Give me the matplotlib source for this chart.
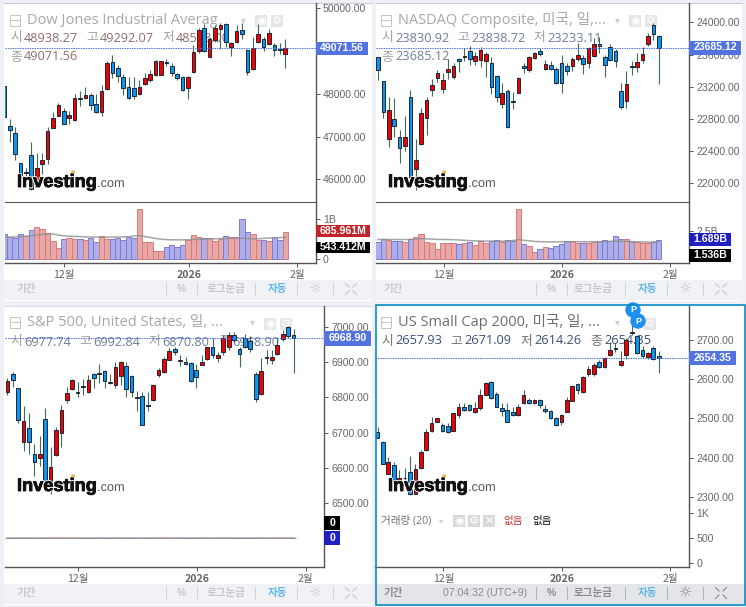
import matplotlib
matplotlib.use("Agg")
import matplotlib.pyplot as plt
from matplotlib.patches import Rectangle, Circle
import matplotlib.patheffects as pe

plt.rcParams['font.family'] = ['Liberation Sans', 'Noto Sans CJK KR', 'DejaVu Sans']

W, H = 746, 607
LEGEND_FONT = ['Open Sans', 'Noto Sans CJK KR', 'DejaVu Sans']
KR_FONT = ['Noto Sans CJK KR', 'DejaVu Sans']

dow_open = [48190,47247,47075,46389,46139,46576,45827,46357,46482,47200,47489,47605,47434,47387,47894,47894,47980,47754,47582,48105,48736,48612,48401,48151,48128,47995,48229,48331,48432,48440,48744,48651,48456,48401,48128,48502,49009,49532,48853,49259,49524,49633,49095,49220,49485,49025,48573,49220,49275,49158,49134,49048,48938.27]
dow_high = [48190,47403,47231,46389,46256,46872,46607,46607,47215,47582,47777,47660,47605,47995,48073,48151,48011,47988,48214,48775,48908,48674,48463,48401,48385,48323,48479,48557,48791,48768,48807,48713,48479,48417,48417,49142,49532,49633,49337,49610,49649,49649,49220,49610,49649,49041,49337,49633,49321,49509,49181,49181,49292.07]
dow_low = [47465,46880,46451,46061,45827,45749,45827,46123,46357,47192,47481,47293,47293,47371,47715,47886,47621,47543,47489,48089,48362,48284,47972,47886,47886,47980,48214,48284,48417,48432,48651,48417,48323,48073,47886,48495,48963,48986,48830,49220,49041,49103,48885,49197,49275,48448,48557,49197,49002,49142,48885,48931,48598]
dow_close = [47465,47153,46591,46100,46162,45765,46256,46443,47122,47434,47730,47301,47504,47894,47871,47980,47746,47582,48058,48713,48479,48424,48128,47894,47956,48151,48378,48456,48760,48760,48721,48479,48378,48081,48401,48986,49493,49002,49275,49532,49610,49220,49181,49462,49392,48502,49080,49407,49103,49423,49025,49025,49071.56]
dow_volume = [618,551,517,618,567,728,805,754,652,449,271,500,534,500,500,483,525,423,567,500,500,525,483,551,534,1262,423,423,195,195,296,339,288,339,474,601,551,517,517,449,500,576,551,551,1008,678,618,466,483,449,542,483,686]
dow_volume_ma = [550,548,552,560,570,580,600,615,630,625,600,580,570,565,560,555,550,548,545,545,548,550,555,560,575,590,565,540,515,495,485,480,478,478,482,488,490,495,500,505,510,515,518,520,515,510,505,505,515,525,530,535,543]

naz_open = [23564,23266,22552,22801,22577,22465,23066,22170,22486,22809,23162,23303,23174,23378,23324,23539,23564,23647,23515,23535,23515,23490,23332,22988,23141,23021,23120,23457,23411,23552,23643,23419,23465,23423,23490,23457,23457,23544,23552,23498,23577,23734,23564,23697,23643,23141,23021,23452,23440,23531,23726,23971,23830.92]
naz_high = [23573,23270,23075,23054,22660,22834,23158,22544,22930,23075,23291,23407,23365,23539,23498,23552,23676,23705,23635,23697,23635,23573,23344,23241,23166,23137,23315,23490,23581,23635,23676,23531,23523,23448,23589,23490,23573,23739,23589,23697,23801,23822,23593,23730,23664,23249,23398,23519,23622,23689,23871,23988,23838.72]
naz_low = [23282,22805,22452,22569,22245,22403,22017,21913,22477,22598,23083,23262,23116,23291,23291,23386,23519,23465,23469,23440,23324,23108,23013,22930,22689,22917,23116,23374,23386,23539,23581,23407,23407,23232,23125,23344,23398,23523,23357,23436,23564,23614,23315,23515,23448,22925,22934,23344,23382,23498,23710,23780,23233.11]
naz_close = [23411,22880,22909,22706,22440,22577,22079,22282,22876,23033,23224,23365,23282,23423,23457,23515,23581,23544,23581,23656,23602,23199,23066,23116,22697,23008,23311,23432,23564,23614,23602,23477,23423,23241,23241,23398,23544,23589,23477,23685,23734,23710,23473,23535,23523,22950,23232,23440,23502,23602,23830,23855,23685.12]
naz_volume = [1529,1735,1676,1558,1558,1499,1793,1911,2205,1470,1411,853,1382,1382,1382,1294,1411,1499,1235,1558,1411,1558,1646,1499,1646,1588,4410,1294,1176,617,853,1088,1000,1176,1294,1558,1558,1382,1382,1382,1470,1558,1646,1558,1999,1735,1735,1558,1499,1411,1382,1499,1689]
naz_volume_ma = [1720,1725,1725,1720,1715,1715,1730,1760,1790,1780,1760,1730,1720,1720,1700,1680,1650,1620,1600,1590,1580,1580,1575,1570,1590,1620,1720,1650,1600,1550,1530,1520,1510,1510,1510,1520,1520,1520,1520,1520,1525,1530,1540,1560,1575,1560,1550,1530,1510,1500,1490,1510,1536]

spx_open = [6815,6868,6826,6673,6713,6641,6627,6739,6544,6637,6698,6792,6823,6812,6832,6815,6867,6867,6874,6843,6834,6862,6888,6860,6799,6803,6778,6792,6864,6871,6906,6937,6903,6900,6898,6877,6893,6908,6944,6913,6928,6943,6976,6937,6968,6961,6866,6810,6915,6907,6922,6966,7001,6977.74]
spx_high = [6854,6873,6828,6776,6755,6667,6691,6769,6660,6717,6779,6831,6852,6845,6852,6864,6870,6896,6877,6868,6900,6904,6900,6864,6818,6815,6816,6839,6883,6916,6939,6944,6921,6916,6902,6894,6921,6944,6968,6930,6977,6987,6985,6944,6979,6973,6873,6911,6935,6935,6968,6991,7002,6992.84]
spx_low = [6807,6831,6727,6649,6641,6578,6605,6552,6525,6635,6660,6785,6821,6802,6807,6812,6828,6840,6828,6837,6826,6835,6802,6802,6762,6721,6762,6790,6859,6869,6905,6921,6890,6892,6845,6826,6892,6906,6911,6902,6921,6935,6954,6887,6941,6928,6788,6807,6894,6896,6921,6960,6968,6870.80]
spx_close = [6846,6851,6737,6733,6673,6616,6641,6561,6604,6707,6764,6814,6849,6815,6829,6849,6856,6869,6846,6840,6887,6901,6825,6815,6801,6722,6775,6834,6877,6910,6931,6930,6905,6895,6847,6859,6902,6943,6921,6921,6968,6976,6964,6924,6943,6938,6797,6874,6912,6916,6949,6979,6975,6968.90]
spx_volume = [0] * 54
spx_volume_ma = [0] * 54

rut_open = [2465,2441,2358,2381,2339,2349,2364,2308,2373,2419,2467,2491,2482,2480,2469,2508,2530,2533,2515,2525,2560,2592,2563,2525,2521,2517,2508,2538,2547,2540,2546,2524,2519,2500,2491,2517,2544,2586,2567,2613,2613,2642,2630,2661,2675,2636,2661,2716,2708,2673,2657,2680,2657.93]
rut_high = [2479,2442,2402,2390,2369,2374,2405,2383,2419,2472,2503,2502,2487,2488,2514,2540,2539,2537,2541,2575,2593,2595,2568,2539,2540,2530,2536,2572,2552,2549,2548,2534,2522,2503,2510,2555,2585,2589,2608,2634,2640,2648,2657,2695,2691,2671,2703,2742,2710,2683,2669,2685,2671.09]
rut_low = [2449,2383,2358,2341,2326,2326,2305,2307,2372,2417,2466,2491,2466,2463,2468,2502,2519,2519,2513,2522,2559,2549,2529,2507,2490,2505,2505,2537,2537,2537,2527,2514,2498,2481,2483,2515,2543,2563,2565,2608,2608,2627,2627,2659,2669,2634,2651,2712,2663,2653,2651,2648,2614.26]
rut_close = [2450,2384,2388,2342,2349,2347,2307,2370,2414,2466,2487,2501,2469,2464,2513,2530,2522,2521,2525,2558,2591,2551,2530,2519,2491,2508,2528,2558,2540,2546,2535,2519,2500,2482,2508,2546,2583,2573,2604,2625,2636,2630,2653,2673,2678,2645,2698,2719,2666,2658,2665,2651,2654.35]

month_labels = ["12월", "2026", "2월"]
# 49000 sits fully behind the last price box in the reference
dow_ticks = [46000, 47000, 48000, 50000]
naz_ticks = [22000, 22400, 22800, 23200, 23600, 24000]
spx_ticks = [6500, 6600, 6700, 6800, 6900, 7000]
rut_ticks = [2300, 2400, 2500, 2600, 2700]

UP = '#f00000'
DOWN = '#0a96f0'
EDGE = '#1b2733'
WICK = '#3f6b58'
AXIS = '#555555'
TEXT = '#666666'

fig = plt.figure(figsize=(W / 100, H / 100), dpi=100, facecolor='#eef0f5')


def px_axes(x0, y0, x1, y1, z):
    ax = fig.add_axes([x0 / W, 1 - y1 / H, (x1 - x0) / W, (y1 - y0) / H], zorder=z)
    ax.patch.set_visible(False)
    return ax


under = px_axes(0, 0, W, H, 0)
under.set_xlim(0, W)
under.set_ylim(H, 0)
under.axis('off')
over = px_axes(0, 0, W, H, 5)
over.set_xlim(0, W)
over.set_ylim(H, 0)
over.axis('off')


def box(ax, x0, y0, x1, y1, color, **kw):
    ax.add_patch(Rectangle((x0, y0), x1 - x0, y1 - y0, facecolor=color, edgecolor='none', **kw))


def price_pane(rect, xlim, ylim, ticks, o, h, l, c, sep):
    ax = px_axes(*rect, 2)
    idx = range(len(c))
    colors = [UP if cc >= oo else DOWN for oo, cc in zip(o, c)]
    ax.vlines(idx, l, h, color=WICK, lw=0.8, zorder=2)
    ax.bar(idx, [cc - oo for oo, cc in zip(o, c)], bottom=o, width=0.68, color=colors,
           edgecolor=EDGE, linewidth=0.7, zorder=3)
    ax.axhline(c[-1], color='#4a6fe0', lw=0.7, ls=(0, (1.5, 1)), zorder=4)
    ax.set_xlim(*xlim)
    ax.set_ylim(*ylim)
    ax.set_xticks([])
    ax.yaxis.tick_right()
    ax.set_yticks(ticks, [f"{t:.2f}" for t in ticks])
    ax.tick_params(axis='y', length=3, width=0.7, color=AXIS, labelcolor=TEXT, labelsize=7.6, pad=2)
    for side in ['top', 'left']:
        ax.spines[side].set_visible(False)
    ax.spines['bottom'].set_visible(sep)
    ax.spines['bottom'].set_color(AXIS)
    ax.spines['right'].set_color(AXIS)
    ax.spines['right'].set_linewidth(1)
    return colors


def volume_pane(rect, xlim, ylim, xticks, yticks, ylabels, volume=None, ma=None, colors=None):
    ax = px_axes(*rect, 2)
    if volume is not None:
        faces = ['#e8a8a8' if cl == UP else '#aeaee8' for cl in colors]
        edges = ['#d87c7c' if cl == UP else '#7c7cd8' for cl in colors]
        ax.bar(range(len(volume)), volume, width=1.0, color=faces, edgecolor=edges, linewidth=0.7)
        ax.plot(range(len(ma)), ma, color='#8f8f8f', lw=1.1, alpha=0.8)
    ax.set_xlim(*xlim)
    ax.set_ylim(*ylim)
    ax.set_xticks(xticks, month_labels, family=KR_FONT)
    ax.get_xticklabels()[1].set_fontweight('bold')
    ax.yaxis.tick_right()
    ax.set_yticks(yticks, ylabels)
    ax.tick_params(axis='y', length=3, width=0.7, color=AXIS, labelcolor=TEXT, labelsize=7.6, pad=2)
    ax.tick_params(axis='x', length=3, width=0.7, color=AXIS, labelcolor=TEXT, labelsize=7.6, pad=2)
    for side in ['top', 'left']:
        ax.spines[side].set_visible(False)
    for side in ['bottom', 'right']:
        ax.spines[side].set_color(AXIS)
        ax.spines[side].set_linewidth(1)


def logo(x, y):
    halo = [pe.withStroke(linewidth=1.6, foreground='white')]
    heavy = [pe.withStroke(linewidth=1.8, foreground='white'),
             pe.withStroke(linewidth=0.6, foreground='#111111')]
    over.text(x, y, "Investing", family='Liberation Sans', fontweight='bold', fontsize=13.1,
              color='#111111', va='baseline', path_effects=heavy)
    over.text(x + 80, y, ".com", family='Liberation Sans', fontsize=9.2, color='#555555',
              va='baseline', path_effects=halo)
    over.add_patch(Circle((x + 56, y - 14.5), 1.3, color='#f5a623'))


def legend_title(x, y, text, color, arrow_x):
    under.add_patch(Rectangle((x - 17, y - 5.5), 10, 11, facecolor='none', edgecolor='#c4c4c4', lw=0.7))
    under.plot([x - 17, x - 7], [y, y], color='#c4c4c4', lw=0.7)
    under.text(x, y, text, family=LEGEND_FONT, fontsize=10.55, color=color, va='center')
    under.text(arrow_x, y, "▾", family=['DejaVu Sans'], fontsize=7, color='#cccccc', ha='center', va='center')


def legend_value(x, y, name, value, name_color, value_color):
    under.text(x, y, name, family=KR_FONT, fontsize=9.2, color=name_color, va='center')
    under.text(x + 14, y, value, family=LEGEND_FONT, fontsize=9.2, color=value_color, va='center')


def icon_box(x0, y0, size=12, glyph="⚙", color='#e6e6e6', ax=None):
    ax = ax if ax is not None else under
    box(ax, x0, y0, x0 + size, y0 + size, color)
    ax.text(x0 + size / 2, y0 + size / 2, glyph, family=['DejaVu Sans'], fontsize=8, color='white',
            ha='center', va='center')


def price_label(x0, y0, x1, y1, text, color):
    box(over, x0, y0, x1, y1, color)
    over.text((x0 + x1) / 2, (y0 + y1) / 2, text, fontsize=7.6, fontweight='bold', color='white',
              ha='center', va='center')


def toolbar(x0, x1, y0, y1, dx, bg, label_color, active=False):
    box(under, x0, y0, x1, y1, bg)
    cy = (y0 + y1) / 2 - 1
    for sx in [166, 197, 255, 297, 333]:
        over.plot([sx + dx, sx + dx], [cy - 6, cy + 6], color='#cfd2d8' if not active else '#b0b2b8', lw=0.7)
    for cx, s in [(26, "기간"), (226, "로그눈금")]:
        over.text(cx + dx + (-3 if dx > 300 else 0), cy, s, family=KR_FONT, fontsize=7.6,
                  color=label_color, fontweight='bold', ha='center', va='center')
    over.text(181 + dx, cy, "%", fontsize=7.6, color=label_color, fontweight='bold', ha='center', va='center')
    over.text(277 + dx, cy, "자동", family=KR_FONT, fontsize=7.6, color='#62b8e4', fontweight='bold',
              ha='center', va='center')
    over.text(315 + dx, cy, "☼", family=['DejaVu Sans'], fontsize=10.5, color=label_color, ha='center', va='center')
    cx = 351 + dx
    for sx, sy in [(-1, -1), (1, -1), (-1, 1), (1, 1)]:
        over.plot([cx + sx * 2, cx + sx * 5.5], [cy + sy * 2, cy + sy * 5.5], color=label_color, lw=0.8)


# panel backgrounds
box(under, 4, 3, 372, 301, 'white')
box(under, 376, 3, 742, 301, 'white')
box(under, 4, 306, 372, 604.5, 'white')
box(under, 375.5, 305, 745, 604.5, 'white')
under.plot([4, 372], [2.7, 2.7], color='#c8ccd4', lw=0.8)
under.plot([376, 742], [2.7, 2.7], color='#c8ccd4', lw=0.8)
under.plot([4, 372], [305.5, 305.5], color='#d8dce4', lw=0.8)

# Dow Jones
x1 = (0.07, 57.7)
colors = price_pane((4.7, 3, 316, 201.7), x1, (45476, 50125), dow_ticks, dow_open, dow_high, dow_low, dow_close, True)
volume_pane((4.7, 201.7, 316, 263.3), x1, (-117, 1447), [11.1, 34.25, 54.25], [0, 1000], ["0", "1B"],
            dow_volume, dow_volume_ma, colors)
legend_title(27, 20, "Dow Jones Industrial Averag", '#a8a8a8', 243)
legend_value(10, 38, "시", "48938.27", '#a0a0a0', '#8d6e6e')
legend_value(86, 38, "고", "49292.07", '#a0a0a0', '#8d6e6e')
legend_value(162, 38, "저", "48598.00", '#a0a0a0', '#8d6e6e')
legend_value(10, 57, "종", "49071.56", '#a0a0a0', '#8d6e6e')
icon_box(255, 15, glyph="◉")
icon_box(271, 15)
price_label(316, 41.5, 368, 55, "49071.56", '#5273e0')
price_label(316, 225, 370, 237.3, "685.961M", '#c02428')
price_label(316, 241.7, 370, 253.3, "543.412M", '#000000')
logo(17, 187)
toolbar(4, 372, 280, 300, 0, '#f0f2f6', '#c6c8cc')

# NASDAQ
x2 = (-0.37, 57.65)
colors = price_pane((376, 3, 689.3, 201.7), x2, (21768, 24241), naz_ticks, naz_open, naz_high, naz_low, naz_close, True)
# the zero label stays behind the 1.536B box in the reference, only the tick shows
volume_pane((376, 201.7, 689.3, 263.3), x2, (-380, 5057), [12.2, 34.1, 54.1], [0, 2500], ["", "2.5B"],
            naz_volume, naz_volume_ma, colors)
legend_title(398, 20, "NASDAQ Composite, 미국, 일,...", '#a8a8a8', 617)
legend_value(381, 38, "시", "23830.92", '#a0a0a0', '#6d7f99')
legend_value(457, 38, "고", "23838.72", '#a0a0a0', '#6d7f99')
legend_value(533, 38, "저", "23233.11", '#a0a0a0', '#6d7f99')
legend_value(381, 57, "종", "23685.12", '#a0a0a0', '#6d7f99')
icon_box(629, 15, glyph="◉")
icon_box(645, 15)
price_label(689.3, 40.5, 741, 54.5, "23685.12", '#5273e0')
price_label(689.3, 233.3, 730.7, 245.7, "1.689B", '#2020c0')
price_label(689.3, 249.3, 730.7, 261.7, "1.536B", '#000000')
logo(388, 187)
toolbar(376, 742, 280, 300, 370, '#f0f2f6', '#c6c8cc')

# S&P 500
x3 = (-0.49, 58.7)
colors = price_pane((4.7, 306, 324.3, 505), x3, (6495, 7059.5), spx_ticks, spx_open, spx_high, spx_low, spx_close, False)
volume_pane((4.7, 505, 324.3, 567), x3, (-29.3, 32.7), [13.1, 35.1, 55.25], [], [],
            spx_volume, spx_volume_ma, colors)
legend_title(27, 322, "S&P 500, United States, 일, ...", '#a8a8a8', 252)
legend_value(10, 342, "시", "6977.74", '#a0a0a0', '#6d7f99')
legend_value(79, 342, "고", "6992.84", '#a0a0a0', '#6d7f99')
legend_value(148, 342, "저", "6870.80", '#a0a0a0', '#6d7f99')
legend_value(218, 342, "종", "6968.90", '#a0a0a0', '#6d7f99')
icon_box(264, 318, glyph="◉")
icon_box(280, 318)
price_label(324.3, 331, 371, 345.7, "6968.90", '#5273e0')
price_label(324.3, 516, 340, 530, "0", '#000000')
price_label(324.3, 530.7, 340, 544.7, "0", '#2020c0')
logo(17, 491)
toolbar(4, 372, 584, 604, 0, '#f0f2f6', '#c6c8cc')

# US Small Cap 2000
colors = price_pane((375.5, 305.5, 689.3, 505), x2, (2279.6, 2786.8), rut_ticks, rut_open, rut_high, rut_low, rut_close, False)
volume_pane((375.5, 505, 689.3, 567), x2, (-86, 1154), [12.2, 34.1, 54.1], [0, 500, 1000], ["0", "500", "1K"])
legend_title(398, 322, "US Small Cap 2000, 미국, 일, ...", '#6e6e6e', 617)
legend_value(381, 341, "시", "2657.93", '#707070', '#3a5078')
legend_value(450, 341, "고", "2671.09", '#707070', '#3a5078')
legend_value(520, 341, "저", "2614.26", '#707070', '#3a5078')
legend_value(590, 341, "종", "2654.35", '#707070', '#3a5078')
icon_box(644, 318)
under.text(381, 521, "거래량 (20)", family=LEGEND_FONT, fontsize=7.6, color='#707070', va='center')
under.text(441, 521, "▾", family=['DejaVu Sans'], fontsize=6, color='#cccccc', ha='center', va='center')
icon_box(453, 515, glyph="◉", color='#d9d9d9')
icon_box(468, 515, color='#d9d9d9')
icon_box(483, 515, glyph="✕", color='#d9d9d9')
under.text(503, 521, "없음", family=KR_FONT, fontsize=7.6, color='#c03030', va='center')
under.text(532, 521, "없음", family=KR_FONT, fontsize=7.6, color='#111111', va='center')
for bx, by in [(633, 310), (638, 321)]:
    over.add_patch(Circle((bx, by), 7, color='#1e90f0'))
    over.text(bx, by, "P", fontsize=6.5, fontweight='bold', color='white', ha='center', va='center')
price_label(689.3, 351, 736, 365, "2654.35", '#5273e0')
logo(388, 491)
toolbar(375.5, 745, 584, 604, 370, '#e4e5e9', '#8a8c90', active=True)
over.text(485, 593, "07:04:32 (UTC+9)", fontsize=7.6, color='#8a8c90', ha='center', va='center')
over.add_patch(Rectangle((375.5, 305), 369.5, 299.5, facecolor='none', edgecolor='#0a8cc6', lw=1.2))

fig.savefig("out.png", dpi=100, facecolor=fig.get_facecolor())
